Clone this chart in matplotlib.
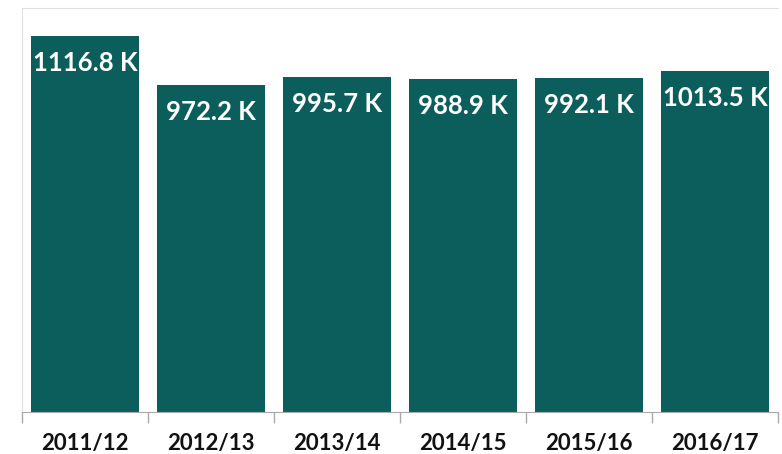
import matplotlib
matplotlib.use("Agg")
import matplotlib.pyplot as plt
import numpy as np

categories = ["2011/12", "2012/13", "2013/14", "2014/15", "2015/16", "2016/17"]
values = [1116.8, 972.2, 995.7, 988.9, 992.1, 1013.5]
labels = ["1116.8 K", "972.2 K", "995.7 K", "988.9 K", "992.1 K", "1013.5 K"]

fig = plt.figure(figsize=(7.82, 4.54), dpi=100)
ax = fig.add_axes([22/782, 42/454, 756/782, 404/454])

x = np.arange(len(categories))
bars = ax.bar(x, values, width=0.865, color="#0b5e5b", zorder=2)
ax.set_xlim(-0.5, len(categories) - 0.5)
ax.set_ylim(0, 1200)
ax.set_yticks([])
ax.set_xticks(x)
ax.set_xticklabels(categories, fontsize=16, fontweight="bold", family=["Lato", "DejaVu Sans"], color="#111111")
ax.tick_params(axis="x", which="major", length=0, pad=15)
ax.set_xticks(np.arange(-0.5, len(categories)), minor=True)
ax.tick_params(axis="x", which="minor", length=8, color="#aaaaaa", width=1)

for b, lab in zip(bars, labels):
    ax.annotate(lab, (b.get_x() + b.get_width() / 2, b.get_height()),
                xytext=(0, -11), textcoords="offset points", ha="center", va="top",
                color="white", fontsize=18.5, fontweight="bold", family=["Lato", "DejaVu Sans"])

for s in ["left", "top"]:
    ax.spines[s].set_color("#e0e0e0")
ax.spines["right"].set_visible(False)
ax.spines["bottom"].set_color("#aaaaaa")

fig.savefig("out.png", dpi=100)
